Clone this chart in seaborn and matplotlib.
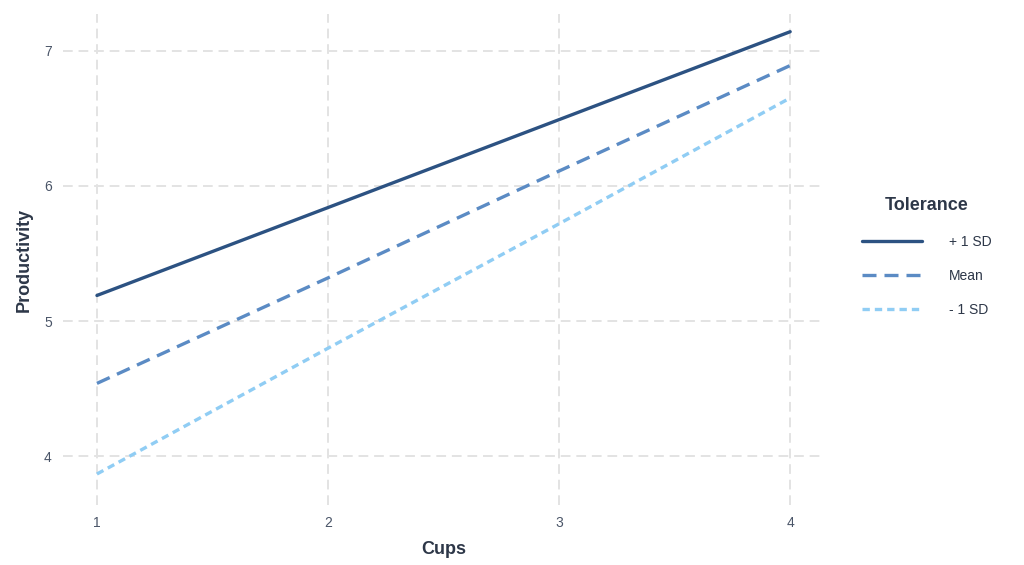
import pandas as pd
import matplotlib.pyplot as plt
import seaborn as sns

# values
cups = [1, 2, 3, 4]
plus_sd = [5.19, 5.84, 6.49, 7.14]
mean_vals = [4.54, 5.32, 6.11, 6.89]
minus_sd = [3.87, 4.80, 5.72, 6.65]
groups = ['+ 1 SD', 'Mean', '- 1 SD']

df = pd.concat([
    pd.DataFrame({'Cups': cups, 'Productivity': plus_sd, 'Tolerance': groups[0]}),
    pd.DataFrame({'Cups': cups, 'Productivity': mean_vals, 'Tolerance': groups[1]}),
    pd.DataFrame({'Cups': cups, 'Productivity': minus_sd, 'Tolerance': groups[2]}),
], ignore_index=True)

sns.set_style('white')
plt.rcParams['font.family'] = ['Liberation Sans', 'DejaVu Sans']

text_col = '#2d3748'
palette = {'+ 1 SD': '#2c5282', 'Mean': '#5b8bc4', '- 1 SD': '#90cdf4'}
dashes = {'+ 1 SD': '', 'Mean': (4.2, 2.4), '- 1 SD': (2.2, 1.5)}

fig = plt.figure(figsize=(10.24, 5.65), dpi=100)
ax = fig.add_axes([0.0615, 0.106, 0.744, 0.869])

sns.lineplot(data=df, x='Cups', y='Productivity', hue='Tolerance', style='Tolerance',
             palette=palette, dashes=dashes, hue_order=groups, style_order=groups,
             linewidth=2.4, ax=ax)

ax.set_xlim(0.853, 4.15)
ax.set_ylim(3.64, 7.27)
ax.set_xticks(cups)
ax.set_yticks([4, 5, 6, 7])
ax.grid(True, color='#e3e3e3', linestyle=(0, (5, 3)), linewidth=1.4)
for s in ax.spines.values():
    s.set_visible(False)
ax.tick_params(length=0, labelsize=10, labelcolor='#4a5568', pad=8)

ax.set_xlabel('Cups', fontsize=13, fontweight='bold', color=text_col, labelpad=8)
ax.set_ylabel('Productivity', fontsize=13, fontweight='bold', color=text_col, labelpad=8)

leg = ax.legend(title='Tolerance', loc='center left', bbox_to_anchor=(1.033, 0.505),
                frameon=False, fontsize=10, title_fontsize=13, handlelength=4.3,
                labelspacing=1.45, handletextpad=1.9)
leg.get_title().set_fontweight('bold')
leg.get_title().set_color(text_col)
leg._legend_box.align = 'center'
for t in leg.get_texts():
    t.set_color(text_col)

fig.savefig('out.png', dpi=100)
